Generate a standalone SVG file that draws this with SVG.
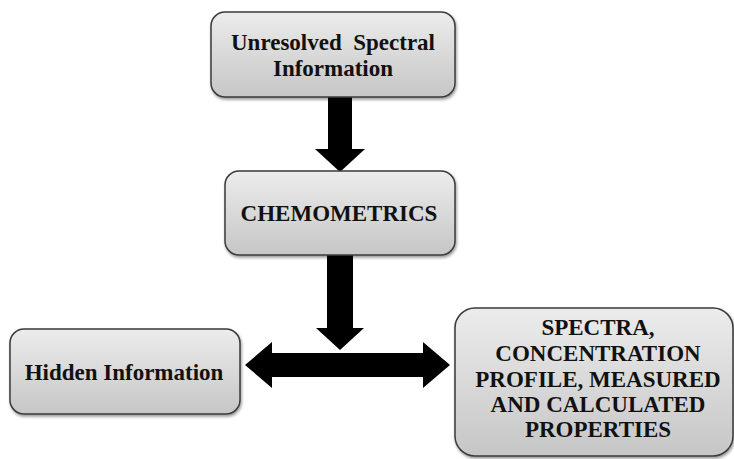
<svg xmlns="http://www.w3.org/2000/svg" width="734" height="459" viewBox="0 0 734 459">
<defs>
<linearGradient id="g" x1="0" y1="0" x2="0" y2="1">
<stop offset="0" stop-color="#ececec"/>
<stop offset="1" stop-color="#c6c6c6"/>
</linearGradient>
<filter id="sh" x="-10%" y="-10%" width="130%" height="130%">
<feGaussianBlur in="SourceAlpha" stdDeviation="1.5"/>
<feOffset dx="1" dy="2" result="b"/>
<feComponentTransfer><feFuncA type="linear" slope="0.4"/></feComponentTransfer>
<feMerge><feMergeNode/><feMergeNode in="SourceGraphic"/></feMerge>
</filter>
</defs>
<style>
.box{fill:url(#g);stroke:#3a3a3a;stroke-width:1.5;filter:url(#sh)}
.arr{fill:#000}
.t{font-family:'Liberation Serif',serif;font-weight:bold;font-size:23px;fill:#111;text-anchor:middle}
</style>
<rect width="734" height="459" fill="#fff"/>
<g id="connectors">
<polygon class="arr" points="328,97 352,97 352,149 365,149 340,172 315,149 328,149"/>
<polygon class="arr" points="327,255 353,255 353,328 364,328 340,350 316,328 327,328"/>
<polygon class="arr" points="245,365 272,342 272,353 423,353 423,342 450,365 423,388 423,377 272,377 272,388"/>
</g>
<g id="unresolved">
<rect class="box" x="211" y="12" width="244" height="85" rx="14"/>
<text class="t" x="333" y="50" xml:space="preserve">Unresolved  Spectral</text>
<text class="t" x="333" y="76">Information</text>
</g>
<g id="chemometrics">
<rect class="box" x="225" y="171" width="230" height="84" rx="14"/>
<text class="t" x="339" y="221">CHEMOMETRICS</text>
</g>
<g id="hidden">
<rect class="box" x="10" y="329" width="230" height="85" rx="14"/>
<text class="t" x="124" y="380">Hidden Information</text>
</g>
<g id="spectra">
<rect class="box" x="455" y="308" width="278" height="148" rx="20"/>
<text class="t" x="598" y="335">SPECTRA,</text>
<text class="t" x="598" y="361">CONCENTRATION</text>
<text class="t" x="598" y="387">PROFILE, MEASURED</text>
<text class="t" x="598" y="412">AND CALCULATED</text>
<text class="t" x="598" y="437">PROPERTIES</text>
</g>
</svg>
